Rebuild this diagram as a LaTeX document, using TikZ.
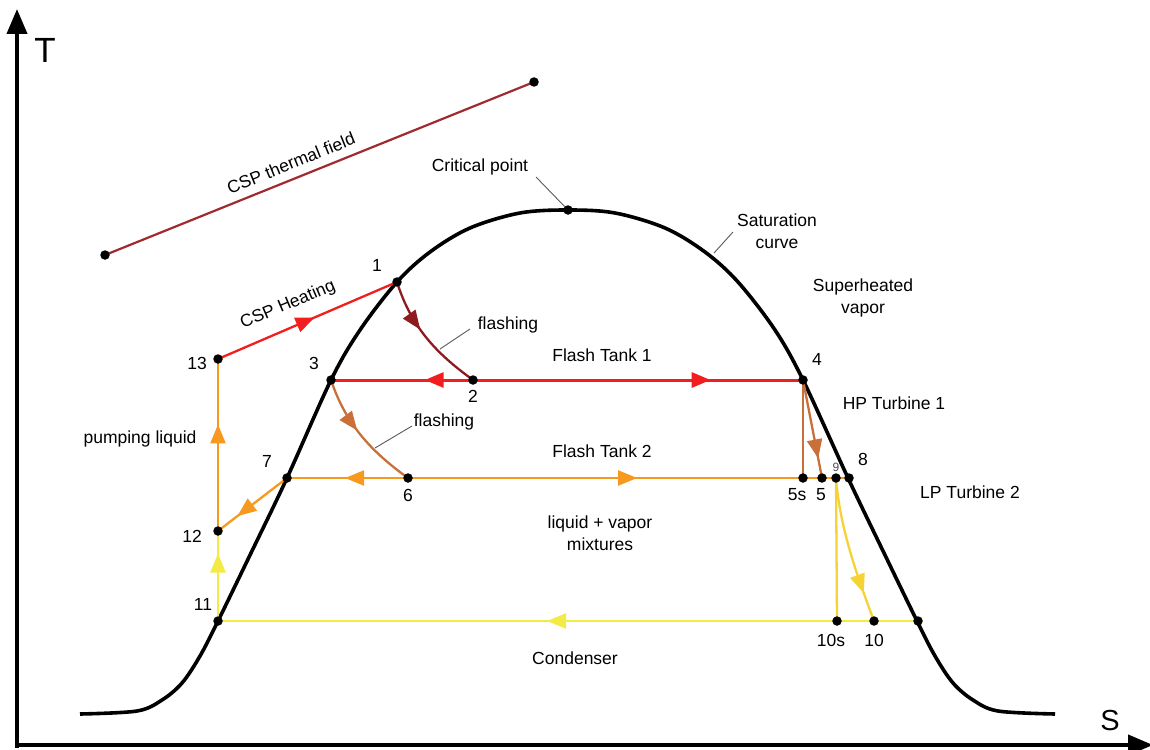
\documentclass[tikz,border=0pt]{standalone}
\usepackage{fontspec}
\setmainfont{Liberation Sans}
\usetikzlibrary{arrows.meta,decorations.markings}
\definecolor{cred}{HTML}{F01E1E}
\definecolor{cfield}{HTML}{A02A2E}
\definecolor{cmaroon}{HTML}{8E1B20}
\definecolor{corange}{HTML}{F7991F}
\definecolor{cbrown}{HTML}{C9703A}
\definecolor{cyellow}{HTML}{F4EA45}
\definecolor{cgold}{HTML}{F5D236}
\begin{document}
\begin{tikzpicture}[x=1pt,y=-1pt,
  font=\fontsize{17.5}{22}\selectfont,
  dot/.style={circle,fill=black,inner sep=0pt,minimum size=9.5pt},
  ln/.style={line width=2.3pt},
  midarrow/.style={postaction={decorate},decoration={markings,mark=at position #1 with {\arrow{Triangle[length=19pt,width=15pt]}}}},
  lbl/.style={inner sep=1pt},
  leader/.style={draw=black!65,line width=0.9pt}]
\useasboundingbox (0,0) rectangle (1150,749);

% axes
\coordinate (ytop) at (17,9);
\coordinate (xend) at (1153,745);
\draw[line width=4pt,-{Triangle[length=25pt,width=20pt]}] (17,748) -- (ytop);
\draw[line width=4pt,-{Triangle[length=25pt,width=20pt]}] (15,745) -- (xend);
\node[font=\fontsize{35}{40}\selectfont] (tlab) at (45,50) {T};
\node[font=\fontsize{29}{34}\selectfont] (slab) at (1110,721) {S};

% saturation curve
\draw[line width=3.6pt,line join=round] plot[smooth,tension=0.55] coordinates {
 (80,714) (137,711) (162,700) (182,683) (200,656) (218,621) (251,553) (287,478)
 (331,380) (360,330) (397,282) (430,252) (470,228) (520,213) (568,210)
 (615,213) (665,228) (705,252) (738,282) (775,330) (803,380) (848,478)
 (884,553) (917,621) (935,656) (953,683) (973,700) (998,711) (1055,714)};

% state points
\coordinate (c1) at (397,282);
\coordinate (c2) at (473,380);
\coordinate (c3) at (331,380);
\coordinate (c4) at (803,380);
\coordinate (c5s) at (803,478);
\coordinate (c5) at (822,478);
\coordinate (c9) at (836,478);
\coordinate (c8) at (849,478);
\coordinate (c6) at (408,478);
\coordinate (c7) at (287,478);
\coordinate (c10s) at (837,621);
\coordinate (c10) at (874,621);
\coordinate (cr) at (918,621);
\coordinate (c11) at (218,621);
\coordinate (c12) at (218,531);
\coordinate (c13) at (218,359);
\coordinate (fa) at (105,255);
\coordinate (fb) at (534,82);
\coordinate (ccrit) at (568,210);

% CSP thermal field
\draw[cfield,line width=2.2pt] (fa) -- (fb);
\node[lbl,rotate=22] (fieldlab) at (291,163) {CSP thermal field};

% CSP heating
\draw[cred,ln,midarrow=0.54] (c13) -- (c1);
\node[lbl,rotate=23] (heatlab) at (288,305) {CSP Heating};

% flashing curves
\draw[cmaroon,ln,midarrow=0.42] (c1) .. controls (412,330) and (440,356) .. (c2);
\draw[cbrown,ln,midarrow=0.45] (c3) .. controls (346,425) and (372,452) .. (c6);

% flash tank 1
\draw[cred,line width=3pt,midarrow=0.34] (c2) -- (c3);
\draw[cred,line width=3pt,midarrow=0.72] (c2) -- (c4);

% HP turbine
\draw[cbrown,ln] (c4) -- (c5s);
\draw[cbrown,ln,midarrow=0.8] (c4) -- (c5);

% flash tank 2
\draw[corange,ln,midarrow=0.52] (c6) -- (c7);
\draw[corange,ln,midarrow=0.58] (c6) -- (c5s);
\draw[corange,ln] (c5s) -- (c8);

% LP turbine
\draw[cgold,ln] (c9) -- (c10s);
\draw[cgold,ln,midarrow=0.8] (c9) .. controls (840,530) and (858,578) .. (c10);

% condenser
\draw[cyellow,ln,midarrow=0.53] (cr) -- (c11);

% pumps
\draw[cyellow,ln,midarrow=0.75] (c11) -- (c12);
\draw[corange,ln,midarrow=0.62] (c12) -- (c13);
\draw[corange,ln,midarrow=0.72] (c7) -- (c12);

% dots
\foreach \p in {1,2,3,4,5s,5,9,8,6,7,10s,10,r,11,12,13,crit}
  \node[dot] (d\p) at (c\p) {};
\node[dot] (dfa) at (fa) {};
\node[dot] (dfb) at (fb) {};

% point labels
\node[lbl] (l1) at (377,265) {1};
\node[lbl] (l2) at (473,396) {2};
\node[lbl] (l3) at (314,363) {3};
\node[lbl] (l4) at (817,359) {4};
\node[lbl] (l5s) at (797,495) {5s};
\node[lbl] (l5) at (821,495) {5};
\node[lbl,font=\fontsize{12}{14}\selectfont,text=black!70] (l9) at (836,467) {9};
\node[lbl] (l8) at (863,459) {8};
\node[lbl] (l6) at (408,495) {6};
\node[lbl] (l7) at (267,461) {7};
\node[lbl] (l10s) at (831,640) {10s};
\node[lbl] (l10) at (874,640) {10};
\node[lbl] (l11) at (203,604) {11};
\node[lbl] (l12) at (192,536) {12};
\node[lbl] (l13) at (197,363) {13};

% annotations
\node[lbl] (critlab) at (480,167) {Critical point};
\draw[leader] (536,177) -- (dcrit);
\node[lbl,align=center] (satlab) at (777,231) {Saturation\\curve};
\draw[leader] (733,232) -- (714,253);
\node[lbl,align=center] (suplab) at (863,298) {Superheated\\vapor};
\node[lbl] (hplab) at (894,403) {HP Turbine 1};
\node[lbl] (lplab) at (970,492) {LP Turbine 2};
\node[lbl] (ft1) at (602,355) {Flash Tank 1};
\node[lbl] (ft2) at (602,451) {Flash Tank 2};
\node[lbl,align=center] (mix) at (600,533) {liquid + vapor\\mixtures};
\node[lbl] (cond) at (575,658) {Condenser};
\node[lbl] (pump) at (140,439) {pumping liquid};
\node[lbl] (fl1) at (508,325) {flashing};
\draw[leader] (470,329) -- (440,349);
\node[lbl] (fl2) at (444,422) {flashing};
\draw[leader] (412,426) -- (375,448);
\end{tikzpicture}
\end{document}
